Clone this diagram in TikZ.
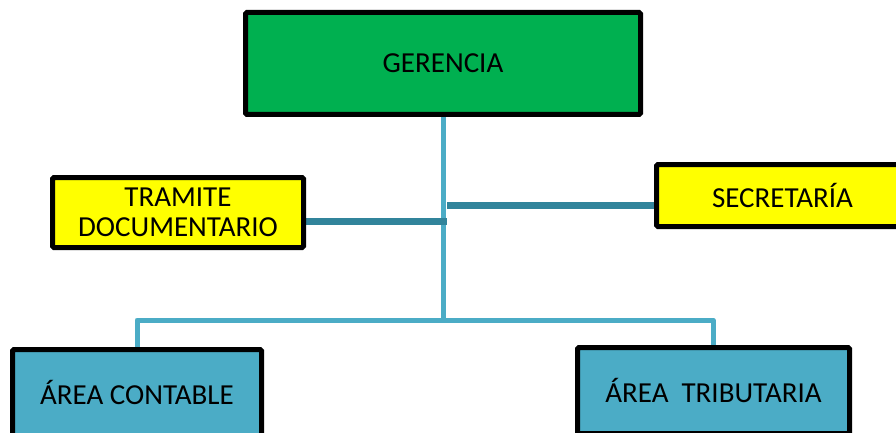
\documentclass[tikz,border=0pt]{standalone}
\usepackage{fontspec}
\setmainfont{Carlito}
\usetikzlibrary{backgrounds}
\definecolor{gr}{HTML}{00B050}
\definecolor{yel}{HTML}{FFFF00}
\definecolor{lblue}{HTML}{4BACC6}
\definecolor{dteal}{HTML}{31849B}
\begin{document}
\begin{tikzpicture}[x=1pt,y=-1pt,
  box/.style={draw=black,line width=5pt,rounded corners=1.5pt,inner sep=0pt,outer sep=0pt,
    font=\fontsize{29}{32}\selectfont,align=center,anchor=north west},
  lcon/.style={draw=lblue,line width=5pt},
  dcon/.style={draw=dteal,line width=7pt}]
\useasboundingbox (0,0) rectangle (896,433);
\clip (0,0) rectangle (896,433);
\node[box,fill=gr,minimum width=395pt,minimum height=102pt] (ger) at (245.5,12.5) {GERENCIA};
\node[box,fill=yel,minimum width=251pt,minimum height=70pt] (tra) at (52.5,177.5) {TRAMITE\\[-2pt]DOCUMENTARIO};
\node[box,fill=yel,minimum width=252pt,minimum height=62pt] (sec) at (656.5,164.5) {SECRETARÍA};
\node[box,fill=lblue,minimum width=249pt,minimum height=86pt] (con) at (12.5,349.5) {ÁREA CONTABLE};
\node[box,fill=lblue,minimum width=272pt,minimum height=86pt] (tri) at (577.5,347.5) {ÁREA\ \ TRIBUTARIA};
\coordinate (j) at (443.5,320);
\coordinate (tj) at (447,221.5);
\coordinate (sj) at (447,205.5);
\begin{scope}[on background layer]
\draw[lcon,line join=round] (con.north -| 137,0) |- (j) -| (tri.north -| 713,0);
\draw[lcon] (ger.south -| j) -- (j);
\draw[dcon] (tra.east |- tj) -- (tj);
\draw[dcon] (sj) -- (sec.west |- sj);
\end{scope}
\end{tikzpicture}
\end{document}
